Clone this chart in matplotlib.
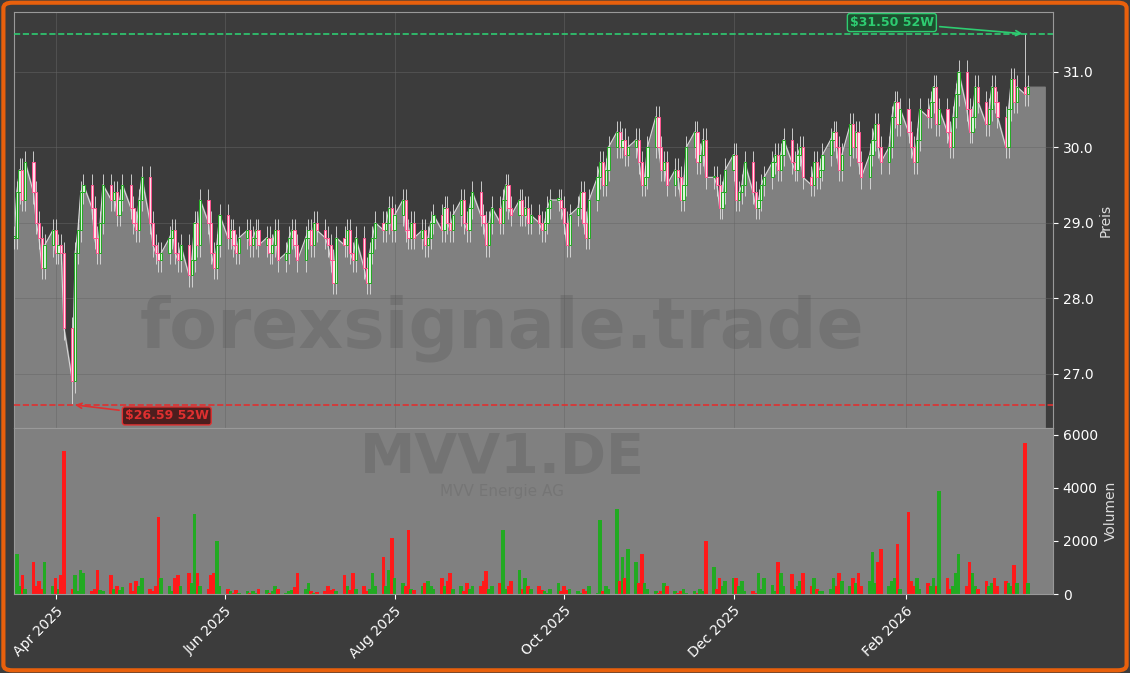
import matplotlib
matplotlib.use("Agg")
import matplotlib.pyplot as plt
import matplotlib.dates as mdates
from matplotlib.patches import FancyBboxPatch
import numpy as np
import pandas as pd

close = [
28.8,29.4,29.7,29.3,29.8, 29.4,29.0,28.8,28.4,28.7, 28.9,28.6,28.7,28.6,27.6,
26.9,28.6,28.9,29.4,29.5, 29.2,28.8,28.6,29.0,29.5, 29.3,29.4,29.1,29.3,29.5,
29.2,29.0,28.9,29.3,29.6, 29.0,28.7,28.6,28.5,28.6, 28.8,28.9,28.6,28.5,28.7,
28.3,28.5,29.0,28.7,29.3, 29.0,28.6,28.4,28.7,29.1, 28.8,28.9,28.7,28.6,28.8,
28.9,28.7,28.8,28.9,28.7, 28.8,28.6,28.7,28.9,28.5, 28.6,28.8,28.9,28.7,28.5,
28.8,28.9,28.7,29.0,28.9, 28.8,28.7,28.5,28.2,28.8, 28.7,28.9,28.6,28.5,28.8,
28.4,28.2,28.6,28.8,29.0, 28.9,29.0,29.2,28.9,29.1, 29.3,28.9,28.8,29.0,28.8,
28.9,28.7,28.8,29.0,29.1, 28.9,29.2,29.0,28.9,29.1, 29.3,29.0,28.9,29.2,29.4,
29.1,29.0,28.7,29.0,29.2, 29.0,29.3,29.5,29.2,29.1, 29.3,29.1,29.2,29.0,29.1,
29.0,28.9,29.0,29.2,29.3, 29.3,29.2,29.0,28.7,29.1, 29.2,29.4,29.0,28.8,29.3,
29.6,29.8,29.5,29.7,30.0, 30.2,30.0,30.1,29.9,30.0, 30.1,29.8,29.5,29.6,30.0,
30.4,30.0,29.7,29.8,29.5, 29.7,29.6,29.3,29.5,30.0, 30.2,29.8,29.9,30.1,29.6,
29.6,29.5,29.2,29.4,29.7, 29.9,29.3,29.4,29.5,29.8, 29.4,29.2,29.3,29.5,29.6,
29.8,29.9,29.7,29.9,30.1, 29.8,29.7,29.9,30.0,29.6, 29.5,29.8,29.6,29.7,29.9,
30.1,30.2,30.0,29.7,29.9, 30.3,30.0,30.2,29.8,29.6, 29.9,30.1,30.3,30.0,29.8,
30.0,30.4,30.6,30.3,30.5, 30.2,30.0,29.8,30.1,30.5, 30.4,30.6,30.8,30.3,30.5,
30.2,30.0,30.4,30.7,31.0, 30.5,30.2,30.4,30.8,30.6, 30.3,30.5,30.8,30.6,30.4,
30.0,30.5,30.9,30.6,30.8, 30.7,30.8]
volume = [
800,1500,300,700,200, 1200,300,500,200,1200, 300,600,200,700,5400,
200,700,100,900,800, 100,200,900,150,100, 700,200,300,150,250,
400,100,500,300,600, 200,100,300,2900,600, 300,100,600,700,300,
800,400,3000,800,300, 200,700,800,2000,300, 200,100,50,150,50,
100,50,100,50,200, 150,50,100,300,200, 50,100,150,250,800,
200,400,100,50,80, 100,300,150,200,100, 700,300,150,800,200,
300,100,200,800,300, 1400,300,900,2100,600, 400,300,2400,200,150,
300,400,500,300,200, 600,300,500,800,200, 300,100,400,200,300,
300,500,850,200,300, 400,2400,200,300,500, 900,200,600,300,200,
300,150,100,50,200, 400,100,300,150,200, 100,50,200,100,300,
50,2800,100,300,200, 3200,500,1400,600,1700, 1200,400,1500,400,200,
100,50,100,400,300, 100,50,100,200,50, 100,50,200,100,2000,
1000,200,600,300,500, 600,600,300,500,100, 100,50,800,200,600,
350,100,1200,800,300, 750,200,300,500,800, 300,600,200,100,100,
200,600,300,800,500, 300,600,400,800,300, 500,1600,400,1200,1700,
300,500,600,1900,200, 3100,500,300,600,200, 400,300,600,300,3900,
600,200,300,800,1500, 300,1200,800,300,200, 500,300,400,600,300,
500,400,300,1100,400, 5700,400]
low_52w = 26.59
high_52w = 31.50
date_ticks = ["2025-04-01", "2025-06-01", "2025-08-01", "2025-10-01", "2025-12-01", "2026-02-01"]
tick_labels = ["Apr 2025", "Jun 2025", "Aug 2025", "Oct 2025", "Dec 2025", "Feb 2026"]

n = min(len(close), len(volume))
close = np.array(close[:n]); volume = np.array(volume[:n])
dates = pd.bdate_range("2025-03-17", periods=n)
opens = np.concatenate([[close[0]], close[:-1]])
highs = np.maximum(opens, close) + 0.15
lows = np.minimum(opens, close) - 0.15
lows[np.argmin(close)] = low_52w
highs[-2] = high_52w
x = mdates.date2num(dates)

BG = "#3c3c3c"
fig = plt.figure(figsize=(11.3, 6.73), dpi=100, facecolor=BG)
fig.patches.append(FancyBboxPatch((0.003, 0.004), 0.994, 0.992, boxstyle="round,pad=0,rounding_size=0.008",
                   transform=fig.transFigure, fill=False, edgecolor="#e8600c", linewidth=3))
L, W = 14/1130, 1039/1130
ax = fig.add_axes([L, 245/673, W, 416/673], facecolor=BG)
axv = fig.add_axes([L, 79/673, W, 166/673], facecolor="#808080", sharex=ax)

xf = np.append(x, x[-1] + 6)
cf = np.append(close, close[-1])
ax.fill_between(xf, cf, 26.0, color="#808080", zorder=1)
ax.plot(x, close, color="#d8d8d8", lw=0.8, zorder=2)
for xi, o, h, l, c in zip(x, opens, highs, lows, close):
    up = c >= o
    ax.vlines(xi, l, h, color="#e0e0e0", lw=0.6, zorder=3)
    ax.bar(xi, max(abs(c - o), 0.02), bottom=min(o, c), width=0.8,
           facecolor="#d8f5d8" if up else "#ffe0ea",
           edgecolor="#22aa22" if up else "#ff5590", lw=0.7, zorder=4)

ax.axhline(high_52w, color="#2ecc71", ls="--", lw=1.2, zorder=5)
ax.axhline(low_52w, color="#e03030", ls="--", lw=1.2, zorder=5)
ih = n - 2; il = int(np.argmin(close))
ax.annotate(f"${high_52w:.2f} 52W", xy=(x[ih], high_52w), xytext=(x[ih] - 48, high_52w + 0.15),
            color="#2ecc71", fontsize=9, fontweight="bold", ha="center", va="center",
            bbox=dict(boxstyle="round,pad=0.2", fc="#1e4d2e", ec="#2ecc71"),
            arrowprops=dict(arrowstyle="->", color="#2ecc71", lw=1.2), zorder=6)
ax.annotate(f"${low_52w:.2f} 52W", xy=(x[il], low_52w), xytext=(x[il] + 34, low_52w - 0.15),
            color="#e03030", fontsize=9, fontweight="bold", ha="center", va="center",
            bbox=dict(boxstyle="round,pad=0.2", fc="#4d1e1e", ec="#e03030"),
            arrowprops=dict(arrowstyle="->", color="#e03030", lw=1.2), zorder=6)

ax.set_ylim(26.28, 31.79)
ax.set_xlim(mdates.date2num(pd.Timestamp("2025-03-17")), mdates.date2num(pd.Timestamp("2026-03-26")))
ax.yaxis.tick_right(); ax.yaxis.set_label_position("right")
ax.set_yticks([27, 28, 29, 30, 31])
ax.set_yticklabels(["27.0", "28.0", "29.0", "30.0", "31.0"])
ax.set_ylabel("Preis", color="#dddddd")
ax.grid(True, color="#666666", lw=0.5, alpha=0.7)
ax.tick_params(colors="white", labelbottom=False, bottom=False)
ax.text(0.47, 0.24, "forexsignale.trade", transform=ax.transAxes, fontsize=50, fontweight="bold",
        color="#555555", alpha=0.3, ha="center", va="center", zorder=7)

cols = ["#22aa22" if c >= o else "#ff1a1a" for o, c in zip(opens, close)]
axv.bar(x, volume, width=1.3, color=cols)
axv.set_ylim(0, 6260)
axv.set_yticks([0, 2000, 4000, 6000])
axv.yaxis.tick_right(); axv.yaxis.set_label_position("right")
axv.set_ylabel("Volumen", color="#dddddd")
axv.tick_params(colors="white")
axv.set_xticks(mdates.date2num(pd.to_datetime(date_ticks)))
axv.set_xticklabels(tick_labels, rotation=45, ha="right", rotation_mode="anchor")
axv.text(0.47, 0.82, "MVV1.DE", transform=axv.transAxes, fontsize=40, fontweight="bold",
         color="#555555", alpha=0.3, ha="center", va="center")
axv.text(0.47, 0.62, "MVV Energie AG", transform=axv.transAxes, fontsize=11,
         color="#666666", alpha=0.4, ha="center", va="center")
for a in (ax, axv):
    for s in a.spines.values():
        s.set_color("#999999")
fig.savefig("out.png", facecolor=BG)
